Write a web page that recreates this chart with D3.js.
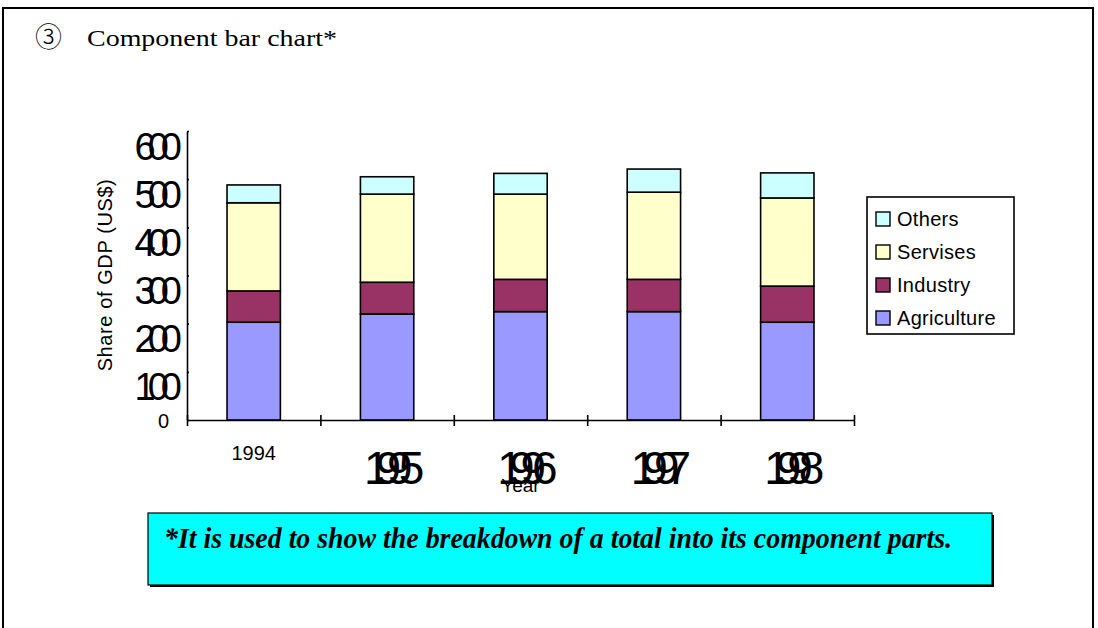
<!DOCTYPE html>
<html>
<head>
<meta charset="utf-8">
<script src="https://cdn.jsdelivr.net/npm/d3@7"></script>
<style>
  body { margin: 0; background: #fff; }
  svg text { font-family: "Liberation Sans", Arial, sans-serif; }
</style>
</head>
<body>
<div id="chart"></div>
<script>
// values
const years = ["1994", "1995", "1996", "1997", "1998"];
const agriculture = [203, 220, 225, 225, 203];
const industry = [65, 66, 67, 67, 75];
const services = [183, 183, 177, 181, 183];
const others = [37, 36, 43, 48, 52];
const seriesKeys = ["Agriculture", "Industry", "Servises", "Others"];
const yTicks = [0, 100, 200, 300, 400, 500, 600];

const W = 1098, H = 628;
let margin = {top: 131, right: 244, bottom: 208, left: 187},
  width = W - margin.left - margin.right,
  height = H - margin.top - margin.bottom;

const color = d3.scaleOrdinal()
  .domain(seriesKeys)
  .range(["#9999ff", "#993366", "#ffffcc", "#ccffff"]);

// rows for the stack
const rows = years.map(function(y, i) {
  return {year: y, Agriculture: agriculture[i], Industry: industry[i], Servises: services[i], Others: others[i]};
});
const stacked = d3.stack().keys(seriesKeys)(rows);

const svg = d3.select("#chart").append("svg")
  .attr("width", W)
  .attr("height", H);

// page frame
svg.append("path")
  .attr("d", "M3," + H + "V8H1093V" + H)
  .attr("fill", "none")
  .attr("stroke", "#000")
  .attr("stroke-width", 2);

// title
svg.append("text")
  .attr("x", 35).attr("y", 47)
  .style("font-family", "'Noto Sans CJK JP'")
  .style("font-size", "27px")
  .style("font-weight", 300)
  .text("③");
svg.append("text")
  .attr("x", 87).attr("y", 46)
  .attr("textLength", 250)
  .attr("lengthAdjust", "spacingAndGlyphs")
  .style("font-family", "'Liberation Serif', 'Times New Roman', serif")
  .style("font-size", "24px")
  .text("Component bar chart*");

const g = svg.append("g")
  .attr("transform", "translate(" + margin.left + "," + margin.top + ")");

// scales
const x = d3.scaleBand()
  .domain(years)
  .range([0, width])
  .paddingInner(0.6)
  .paddingOuter(0.3);
const xEdge = d3.scaleLinear().domain([0, years.length]).range([0, width]);
const y = d3.scaleLinear().domain([0, 600]).range([height, 0]);

// bars
g.selectAll("g.layer")
  .data(stacked)
  .enter().append("g")
  .attr("class", "layer")
  .attr("fill", function(d) { return color(d.key); })
  .selectAll("rect")
  .data(function(d) { return d; })
  .enter().append("rect")
  .attr("x", function(d) { return x(d.data.year); })
  .attr("y", function(d) { return y(d[1]); })
  .attr("width", x.bandwidth())
  .attr("height", function(d) { return y(d[0]) - y(d[1]); })
  .attr("stroke", "#000")
  .attr("stroke-width", 1.6);

// y axis
const yAxis = g.append("g")
  .call(d3.axisLeft(y).tickValues(yTicks).tickSizeInner(7).tickSizeOuter(0));
yAxis.select(".domain").attr("stroke", "#000").attr("stroke-width", 1.6);
yAxis.selectAll(".tick line").attr("x2", 2).attr("stroke-width", 1.6);
yAxis.selectAll(".tick text")
  .attr("fill", "#000")
  .style("font-family", "'Liberation Sans', Arial, sans-serif")
  .each(function(d) {
    const t = d3.select(this);
    if (d === 0) {
      t.attr("x", -18).attr("dy", "0.35em").style("font-size", "20px");
    } else {
      t.attr("x", -13).attr("dy", 28).style("font-size", "38px").style("letter-spacing", "-8px");
    }
  });

// x axis, ticks sit on the category boundaries
const xAxis = g.append("g")
  .attr("transform", "translate(0," + height + ")")
  .call(d3.axisBottom(xEdge).tickValues(d3.range(0, years.length + 1)).tickFormat("").tickSizeOuter(0));
xAxis.select(".domain").attr("stroke", "#000").attr("stroke-width", 1.6);
xAxis.selectAll(".tick line").attr("y1", -5).attr("y2", 6).attr("stroke-width", 1.6);

// category labels
g.selectAll("text.year")
  .data(years)
  .enter().append("text")
  .attr("class", "year")
  .attr("x", function(d) { return x(d) + x.bandwidth() / 2; })
  .attr("y", function(d, i) { return i === 0 ? height + 40 : height + 64; })
  .attr("text-anchor", "middle")
  .style("font-size", function(d, i) { return i === 0 ? "20px" : "46px"; })
  .style("letter-spacing", function(d, i) { return i === 0 ? "0px" : "-14px"; })
  .text(function(d) { return d; });

// axis titles
g.append("text")
  .attr("x", x("1996") + x.bandwidth() / 2)
  .attr("y", height + 72)
  .attr("text-anchor", "middle")
  .style("font-size", "19px")
  .text("Year");
g.append("text")
  .attr("transform", "translate(" + (112 - margin.left) + "," + (275 - margin.top) + ") rotate(-90)")
  .attr("text-anchor", "middle")
  .style("font-size", "20px")
  .style("letter-spacing", "0.6px")
  .text("Share of GDP (US$)");

// legend
const legend = svg.append("g").attr("transform", "translate(867,197)");
legend.append("rect")
  .attr("width", 147).attr("height", 137)
  .attr("fill", "#fff").attr("stroke", "#000").attr("stroke-width", 1.6);
const items = legend.selectAll("g.item")
  .data(seriesKeys.slice().reverse())
  .enter().append("g")
  .attr("class", "item")
  .attr("transform", function(d, i) { return "translate(0," + (29 + i * 33) + ")"; });
items.append("rect")
  .attr("x", 9).attr("y", -14)
  .attr("width", 14).attr("height", 14)
  .attr("fill", function(d) { return color(d); })
  .attr("stroke", "#000").attr("stroke-width", 1.4);
items.append("text")
  .attr("x", 30).attr("y", 0)
  .style("font-size", "20px")
  .style("letter-spacing", "0.3px")
  .text(function(d) { return d; });

// footnote box
const note = svg.append("g").attr("transform", "translate(148,513)");
note.append("rect")
  .attr("x", 2).attr("y", 2).attr("width", 844).attr("height", 72)
  .attr("fill", "#000");
note.append("rect")
  .attr("width", 844).attr("height", 72)
  .attr("fill", "#00ffff").attr("stroke", "#000").attr("stroke-width", 1.2);
note.append("text")
  .attr("x", 16).attr("y", 35)
  .attr("textLength", 788)
  .attr("lengthAdjust", "spacingAndGlyphs")
  .style("font-family", "'Liberation Serif', 'Times New Roman', serif")
  .style("font-weight", "bold")
  .style("font-style", "italic")
  .style("font-size", "29px")
  .text("*It is used to show the breakdown of a total into its component parts.");
</script>
</body>
</html>
